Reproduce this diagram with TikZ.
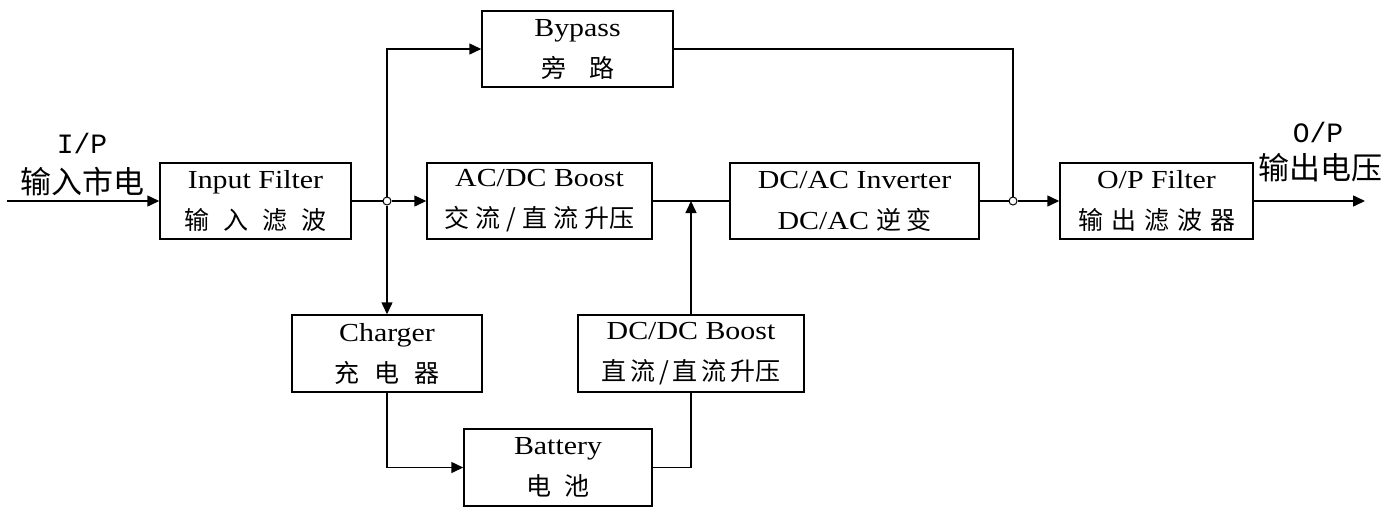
\documentclass[tikz,border=0pt]{standalone}
\usepackage{fontspec}
\setmainfont[FakeStretch=1.15]{Liberation Serif}
\newfontfamily\iofont{Liberation Mono}
\newfontfamily\cjk{Noto Sans CJK SC}
\newcommand\zhtxt[1]{\cjk\fontsize{25}{41}\selectfont\spaceskip=#1\relax}
\usetikzlibrary{arrows.meta}
\begin{document}
\begin{tikzpicture}[x=1pt,y=-1pt,
  blk/.style={draw,line width=1.5pt,inner sep=0pt,align=center,font=\fontsize{26}{41}\selectfont},
  wire/.style={line width=1.5pt},
  arr/.style={wire,-{Triangle[length=12pt,width=11pt]}},
  jn/.style={circle,draw,fill=white,line width=1pt,inner sep=0pt,minimum size=8pt},
  iolbl/.style={inner sep=0pt,font=\iofont\fontsize{28}{28}\selectfont},
  iozh/.style={inner sep=0pt,font=\cjk\fontsize{31}{31}\selectfont}
]
\useasboundingbox[fill=white] (0,0) rectangle (1397,507);

\node[blk,minimum width=191pt,minimum height=76pt] (inf) at (255.5,201) {Input Filter\\{\zhtxt{14pt}输 入 滤 波}};
\node[blk,minimum width=225pt,minimum height=76pt] (acdc) at (539.5,201) {AC/DC Boost\\{\zhtxt{6pt}交 流 / 直 流 升压}};
\node[blk,minimum width=249pt,minimum height=76pt] (dcac) at (854.5,201) {DC/AC Inverter\\DC/AC {\zhtxt{5pt}逆 变}};
\node[blk,minimum width=193pt,minimum height=76pt] (opf) at (1156.5,201) {O/P Filter\\{\zhtxt{8pt}输 出 滤 波 器}};
\node[blk,minimum width=191pt,minimum height=76pt] (byp) at (577.5,49) {Bypass\\{\zhtxt{23pt}旁 路}};
\node[blk,minimum width=190pt,minimum height=77pt] (chg) at (387,353.5) {Charger\\{\zhtxt{15pt}充 电 器}};
\node[blk,minimum width=226pt,minimum height=77pt] (dcdc) at (691,353.5) {DC/DC Boost\\{\zhtxt{4pt}直 流 / 直 流 升压}};
\node[blk,minimum width=188pt,minimum height=77pt] (bat) at (558,467.5) {Battery\\{\zhtxt{13pt}电 池}};

\node[iolbl] (ip) at (82,143) {I/P};
\node[iozh] (ipzh) at (82,182) {输入市电};
\node[iolbl] (op) at (1318,132) {O/P};
\node[iozh] (opzh) at (1320,168) {输出电压};

\coordinate (in) at (7,201);
\coordinate (out) at (1365,201);
\coordinate (tee) at (dcdc.north |- acdc.east);

\draw[arr] (in) -- (inf.west);
\draw[wire] (acdc.east) -- (dcac.west);
\draw[arr] (dcdc.north) -- (tee);
\draw[arr] (chg.south) |- (bat.west);
\draw[wire] (bat.east) -| (dcdc.south);
\draw[arr] (opf.east) -- (out);

\node[jn] (j1) at (387,201) {};
\node[jn] (j2) at (1013,201) {};
\draw[wire] (inf.east) -- (j1);
\draw[arr] (j1) -- (acdc.west);
\draw[arr] (j1) |- (byp.west);
\draw[arr] (j1) -- (chg.north);
\draw[wire] (dcac.east) -- (j2);
\draw[arr] (j2) -- (opf.west);
\draw[wire] (byp.east) -| (j2);
\end{tikzpicture}
\end{document}
